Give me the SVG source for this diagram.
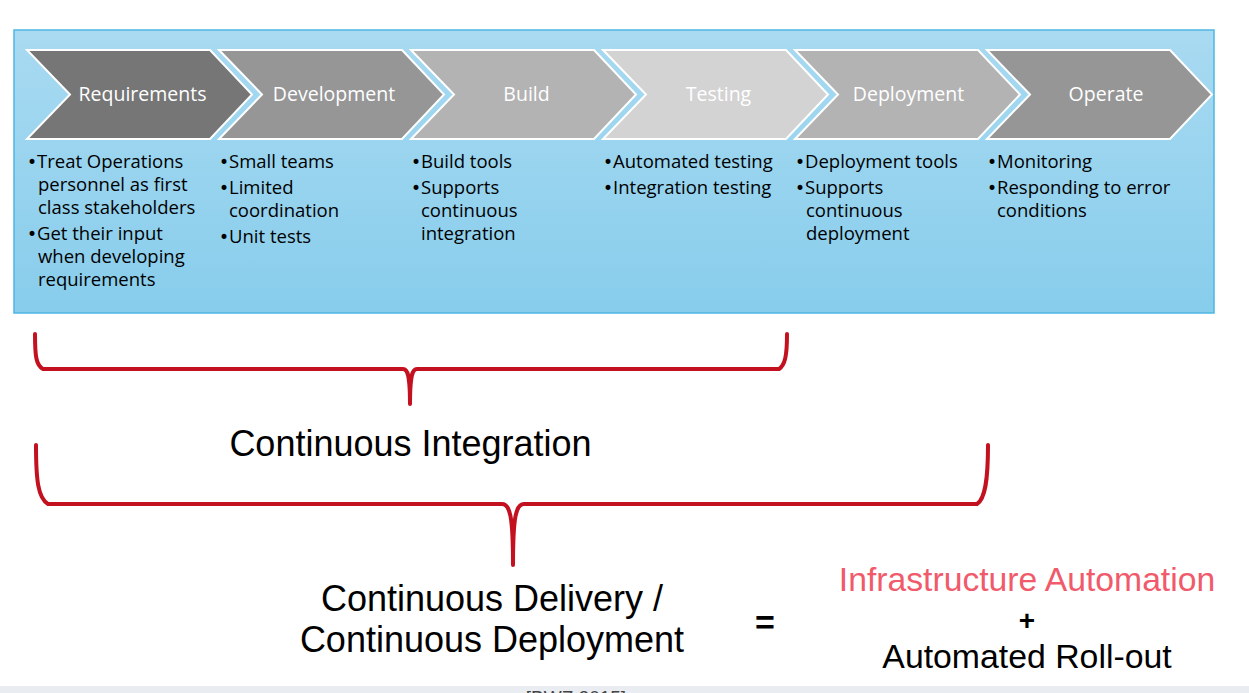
<svg xmlns="http://www.w3.org/2000/svg" width="1249" height="693" viewBox="0 0 1249 693">
<defs>
<linearGradient id="panelGrad" x1="0" y1="0" x2="0" y2="1">
<stop offset="0" stop-color="#a9daf1"/>
<stop offset="1" stop-color="#87cdec"/>
</linearGradient>
<style>
.chev{stroke:#ffffff;stroke-width:2;}
.lbl{font-family:"Open Sans","Noto Sans",sans-serif;font-size:19.5px;fill:#ffffff;text-anchor:middle;}
.bul{font-family:"Open Sans","Noto Sans",sans-serif;font-size:18.5px;fill:#000000;}
.dot{font-family:"DejaVu Sans",sans-serif;font-size:17px;}
.big{font-family:"Liberation Sans",Arial,sans-serif;fill:#000000;text-anchor:middle;}
.brace{fill:none;stroke:#c3111f;stroke-width:4;stroke-linecap:round;stroke-linejoin:round;}
</style>
</defs>
<rect x="0" y="0" width="1249" height="693" fill="#ffffff"/>
<rect id="panel" x="14" y="30" width="1200" height="283" fill="url(#panelGrad)" stroke="#4fb6e2" stroke-width="1.5"/>

<g id="requirements">
<polygon class="chev" fill="#767676" points="27,50 210,50 252,94.5 210,139 27,139 70,94.5"/>
<text class="lbl" x="142.5" y="101">Requirements</text>
<text class="bul" x="27" y="168"><tspan class="dot">•</tspan>Treat Operations</text>
<text class="bul" x="38" y="191">personnel as first</text>
<text class="bul" x="38" y="214">class stakeholders</text>
<text class="bul" x="27" y="240"><tspan class="dot">•</tspan>Get their input</text>
<text class="bul" x="38" y="263">when developing</text>
<text class="bul" x="38" y="286">requirements</text>
</g>

<g id="development">
<polygon class="chev" fill="#969696" points="219,50 402,50 444,94.5 402,139 219,139 262,94.5"/>
<text class="lbl" x="334" y="101">Development</text>
<text class="bul" x="219" y="168"><tspan class="dot">•</tspan>Small teams</text>
<text class="bul" x="219" y="194"><tspan class="dot">•</tspan>Limited</text>
<text class="bul" x="229" y="217">coordination</text>
<text class="bul" x="219" y="243"><tspan class="dot">•</tspan>Unit tests</text>
</g>

<g id="build">
<polygon class="chev" fill="#b3b3b3" points="411,50 594,50 636,94.5 594,139 411,139 454,94.5"/>
<text class="lbl" x="526.5" y="101">Build</text>
<text class="bul" x="411" y="168"><tspan class="dot">•</tspan>Build tools</text>
<text class="bul" x="411" y="194"><tspan class="dot">•</tspan>Supports</text>
<text class="bul" x="421" y="217">continuous</text>
<text class="bul" x="421" y="240">integration</text>
</g>

<g id="testing">
<polygon class="chev" fill="#d3d3d3" points="603,50 786,50 828,94.5 786,139 603,139 646,94.5"/>
<text class="lbl" x="718.5" y="101">Testing</text>
<text class="bul" x="603" y="168"><tspan class="dot">•</tspan>Automated testing</text>
<text class="bul" x="603" y="194"><tspan class="dot">•</tspan>Integration testing</text>
</g>

<g id="deployment">
<polygon class="chev" fill="#b3b3b3" points="795,50 978,50 1020,94.5 978,139 795,139 838,94.5"/>
<text class="lbl" x="908.5" y="101">Deployment</text>
<text class="bul" x="795" y="168"><tspan class="dot">•</tspan>Deployment tools</text>
<text class="bul" x="795" y="194"><tspan class="dot">•</tspan>Supports</text>
<text class="bul" x="806" y="217">continuous</text>
<text class="bul" x="806" y="240">deployment</text>
</g>

<g id="operate">
<polygon class="chev" fill="#969696" points="987,50 1170,50 1212,94.5 1170,139 987,139 1030,94.5"/>
<text class="lbl" x="1106" y="101">Operate</text>
<text class="bul" x="987" y="168"><tspan class="dot">•</tspan>Monitoring</text>
<text class="bul" x="987" y="194"><tspan class="dot">•</tspan>Responding to error</text>
<text class="bul" x="997" y="217">conditions</text>
</g>

<g id="connectors">
<path class="brace" d="M35,334 C35,356 36,365 43,369 L403,369 C408,369 410,376 410,404 C410,376 412,369 417,369 L779,369 C785,365 787,356 787,334"/>
<path class="brace" d="M36,445 C36,480 38,498 48,504 L502,504 C510,504 513,516 513,565 C513,516 516,504 524,504 L977,504 C985,499 988,481 988,445"/>
</g>

<g id="ci-label">
<text class="big" x="410.5" y="456" font-size="36">Continuous Integration</text>
</g>
<g id="cd-label">
<text class="big" x="492" y="611" font-size="36">Continuous Delivery /</text>
<text class="big" x="492" y="652" font-size="36">Continuous Deployment</text>
</g>
<g id="equals">
<text class="big" x="765" y="634" font-size="34" font-weight="bold">=</text>
</g>
<g id="formula">
<text class="big" x="1027" y="591" font-size="33.7" style="fill:#f05a6b">Infrastructure Automation</text>
<text class="big" x="1027" y="630" font-size="28" font-weight="bold">+</text>
<text class="big" x="1027" y="668" font-size="33.8">Automated Roll-out</text>
</g>

<rect x="0" y="686" width="1249" height="7" fill="#e9edf1"/>
<text x="576" y="704" font-family="Liberation Sans, Arial, sans-serif" font-size="19" fill="#444444" text-anchor="middle">[BWZ 2015]</text>
</svg>
